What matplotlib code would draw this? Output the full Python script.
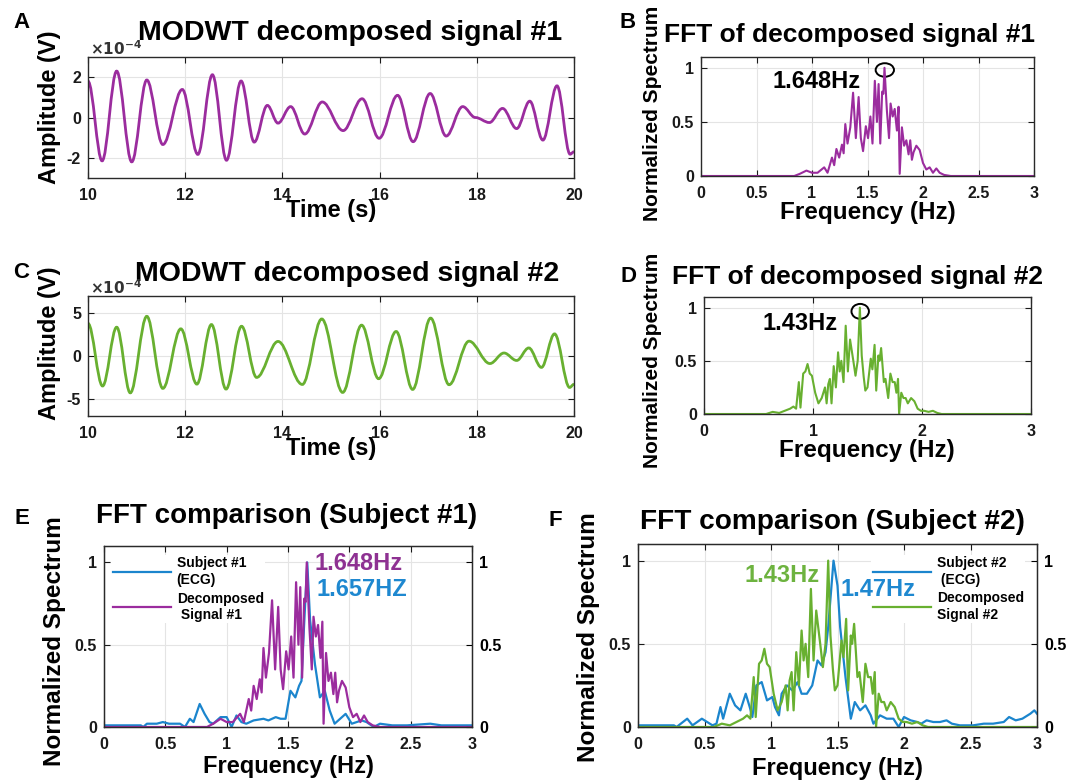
import numpy as np
import matplotlib
matplotlib.use("Agg")
import matplotlib.pyplot as plt
from matplotlib.path import Path
from matplotlib.patches import PathPatch, Ellipse

# --- time-domain signals: extrema (units of 1e-4 V)
sig1_t = [10.0, 10.29, 10.59, 10.9, 11.21, 11.54, 11.94, 12.26, 12.56, 12.85,
          13.15, 13.42, 13.69, 13.91, 14.17, 14.46, 14.82, 15.25, 15.64, 15.99,
          16.37, 16.69, 17.04, 17.37, 17.71, 17.97, 18.26, 18.53, 18.82, 19.09,
          19.36, 19.65, 19.92, 20.0]
sig1_a = [1.8, -2.15, 2.3, -2.2, 1.86, -1.34, 1.39, -1.83, 2.12, -2.12,
          1.81, -1.22, 0.6, -0.28, 0.54, -0.82, 0.77, -0.65, 0.93, -1.03,
          1.1, -1.2, 1.19, -0.92, 0.54, 0.0, -0.25, 0.45, -0.55, 0.81,
          -1.12, 1.57, -1.82, -1.7]

sig2_t = [10.0, 10.3, 10.59, 10.87, 11.21, 11.54, 11.91, 12.24, 12.54, 12.84,
          13.16, 13.47, 13.91, 14.41, 14.81, 15.24, 15.63, 15.98, 16.34, 16.68,
          17.05, 17.43, 17.84, 18.27, 18.56, 18.82, 19.07, 19.33, 19.6, 19.91,
          20.0]
sig2_a = [3.8, -3.5, 3.36, -4.3, 4.63, -3.78, 3.17, -3.28, 3.67, -3.86,
          3.47, -2.5, 1.7, -3.32, 4.32, -4.25, 3.6, -2.65, 2.86, -3.9,
          4.42, -3.35, 1.73, -0.88, 0.35, -0.52, 0.94, -1.33, 2.58, -3.67,
          -3.3]

# --- spectra (normalized), frequency in Hz
fft1_f = [0, 0.84, 0.89, 0.95, 1.0, 1.05, 1.11, 1.14, 1.18, 1.2,
          1.22, 1.245, 1.27, 1.285, 1.3, 1.32, 1.345, 1.37, 1.395, 1.42,
          1.44, 1.46, 1.485, 1.505, 1.526, 1.545, 1.566, 1.585, 1.6, 1.615,
          1.632, 1.643, 1.653, 1.675, 1.694, 1.708, 1.727, 1.745, 1.765, 1.78,
          1.79, 1.81, 1.83, 1.85, 1.87, 1.885, 1.9, 1.915, 1.94, 1.97,
          2.0, 2.03, 2.06, 2.09, 2.12, 2.15, 2.19, 2.25, 3.0]
fft1_v = [0, 0, 0.02, 0.05, 0.03, 0.03, 0.08, 0.03, 0.17, 0.1,
          0.25, 0.17, 0.29, 0.21, 0.48, 0.3, 0.45, 0.77, 0.35, 0.73,
          0.35, 0.23, 0.46, 0.35, 0.55, 0.3, 0.88, 0.5, 0.85, 0.3,
          0.78, 0.76, 1.0, 0.6, 0.35, 0.67, 0.55, 0.62, 0.42, 0.64,
          0.02, 0.45, 0.28, 0.33, 0.2, 0.33, 0.15, 0.22, 0.28, 0.24,
          0.12, 0.06, 0.08, 0.03, 0.07, 0.03, 0.01, 0, 0]

fft2_f = [0, 0.57, 0.63, 0.69, 0.74, 0.79, 0.82, 0.845, 0.87, 0.885,
          0.91, 0.93, 0.95, 0.97, 0.99, 1.02, 1.05, 1.08, 1.11, 1.125,
          1.14, 1.155, 1.17, 1.19, 1.21, 1.23, 1.245, 1.26, 1.28, 1.3,
          1.32, 1.34, 1.355, 1.37, 1.39, 1.41, 1.43, 1.447, 1.465, 1.48,
          1.5, 1.53, 1.545, 1.565, 1.58, 1.6, 1.61, 1.625, 1.65, 1.665,
          1.69, 1.71, 1.73, 1.75, 1.765, 1.78, 1.79, 1.81, 1.83, 1.85,
          1.87, 1.9, 1.93, 1.96, 1.99, 2.02, 2.06, 2.1, 2.14, 2.18,
          3.0]
fft2_v = [0, 0, 0.02, 0.01, 0.03, 0.05, 0.07, 0.05, 0.3, 0.06,
          0.38, 0.4, 0.47, 0.38, 0.36, 0.2, 0.1, 0.15, 0.25, 0.1,
          0.28, 0.33, 0.1, 0.45, 0.25, 0.58, 0.4, 0.5, 0.3, 0.83,
          0.4, 0.7, 0.6, 0.5, 0.36, 0.5, 1.0, 0.55, 0.35, 0.22,
          0.25, 0.52, 0.42, 0.65, 0.22, 0.55, 0.5, 0.62, 0.3, 0.33,
          0.15, 0.38, 0.3, 0.3, 0.2, 0.33, 0.0, 0.2, 0.15, 0.15,
          0.1, 0.15, 0.12, 0.05, 0.03, 0.03, 0.02, 0.03, 0.01, 0,
          0]

ecg1_f = [0, 0.3, 0.32, 0.35, 0.43, 0.48, 0.53, 0.62, 0.66, 0.7,
          0.73, 0.78, 0.82, 0.86, 0.89, 0.95, 1.0, 1.04, 1.08, 1.12,
          1.16, 1.22, 1.3, 1.34, 1.4, 1.44, 1.48, 1.52, 1.56, 1.59,
          1.61, 1.63, 1.657, 1.68, 1.72, 1.76, 1.8, 1.84, 1.88, 1.97,
          2.02, 2.1, 2.14, 2.2, 2.25, 2.35, 2.47, 2.66, 2.75, 3.0]
ecg1_v = [0.01, 0.01, 0.0, 0.02, 0.02, 0.03, 0.02, 0.02, 0.0, 0.05,
          0.03, 0.14, 0.08, 0.03, 0.02, 0.06, 0.06, 0.0, 0.07, 0.03,
          0.02, 0.04, 0.05, 0.04, 0.06, 0.05, 0.05, 0.22, 0.18, 0.25,
          0.28, 0.6, 1.0, 0.65, 0.38, 0.18, 0.22, 0.1, 0.02, 0.08,
          0.02, 0.04, 0.03, 0.0, 0.02, 0.01, 0.01, 0.02, 0.01, 0.01]

ecg2_f = [0, 0.27, 0.29, 0.37, 0.41, 0.48, 0.52, 0.56, 0.59, 0.62,
          0.64, 0.69, 0.73, 0.77, 0.81, 0.84, 0.86, 0.89, 0.93, 0.97,
          1.01, 1.03, 1.06, 1.08, 1.12, 1.16, 1.2, 1.23, 1.27, 1.31,
          1.35, 1.38, 1.41, 1.43, 1.47, 1.5, 1.52, 1.56, 1.6, 1.63,
          1.67, 1.71, 1.75, 1.77, 1.82, 1.87, 1.92, 1.96, 2.0, 2.05,
          2.1, 2.13, 2.17, 2.22, 2.27, 2.32, 2.36, 2.42, 2.52, 2.6,
          2.67, 2.75, 2.79, 2.84, 2.89, 2.95, 2.98, 3.0]
ecg2_v = [0.01, 0.01, 0.0, 0.05, 0.01, 0.05, 0.03, 0.01, 0.02, 0.12,
          0.05, 0.2, 0.13, 0.1, 0.2, 0.12, 0.06, 0.25, 0.27, 0.16,
          0.18, 0.12, 0.07, 0.2, 0.25, 0.22, 0.27, 0.2, 0.2, 0.25,
          0.4, 0.37, 0.45, 0.6, 1.0, 0.85, 0.6, 0.3, 0.05, 0.15,
          0.1, 0.13, 0.07, 0.02, 0.07, 0.05, 0.05, 0.0, 0.06, 0.04,
          0.03, 0.02, 0.04, 0.03, 0.03, 0.04, 0.02, 0.01, 0.01, 0.02,
          0.02, 0.03, 0.06, 0.04, 0.05, 0.08, 0.1, 0.08]

PURPLE = "#9B2C9E"
GREEN = "#68B030"
BLUE = "#1B85CD"

plt.rcParams["font.family"] = ["Liberation Sans", "DejaVu Sans"]
plt.rcParams["font.weight"] = "bold"
plt.rcParams["axes.unicode_minus"] = False

W, H = 1069, 783
fig = plt.figure(figsize=(W / 100, H / 100), dpi=100)


def box(l, r, t, b):
    return [l / W, 1 - b / H, (r - l) / W, (b - t) / H]


def put(x, y, s, **kw):
    fig.text(x / W, 1 - y / H, s, **kw)


def style(ax, right=True):
    ax.grid(True, color="#e4e4e4", lw=0.8)
    ax.set_axisbelow(True)
    for sp in ax.spines.values():
        sp.set_color("#2a2a2a")
        sp.set_linewidth(1.0)
    ax.tick_params(direction="in", top=True, right=right, length=4,
                   width=0.8, labelsize=11.5, colors="#1a1a1a")
    ax.tick_params(axis="x", pad=7)
    ax.tick_params(axis="y", pad=5)


def smooth_line(ax, t, a, color, k=0.36):
    # smooth curve through the read extrema (cubic segments, flat at each point)
    verts = [(t[0], a[0])]
    codes = [Path.MOVETO]
    for i in range(len(t) - 1):
        dt = t[i + 1] - t[i]
        verts += [(t[i] + k * dt, a[i]), (t[i + 1] - k * dt, a[i + 1]), (t[i + 1], a[i + 1])]
        codes += [Path.CURVE4] * 3
    ax.add_patch(PathPatch(Path(verts, codes), fill=False, ec=color, lw=2.0))


# ---- A
axA = fig.add_axes(box(88, 574, 57, 178))
smooth_line(axA, sig1_t, sig1_a, PURPLE)
axA.set_xlim(10, 20)
axA.set_ylim(-3, 3)
axA.set_xticks([10, 12, 14, 16, 18, 20])
axA.set_yticks([-2, 0, 2])
style(axA)

# ---- C
axC = fig.add_axes(box(88, 574, 296, 416))
smooth_line(axC, sig2_t, sig2_a, GREEN)
axC.set_xlim(10, 20)
axC.set_ylim(-7, 7)
axC.set_xticks([10, 12, 14, 16, 18, 20])
axC.set_yticks([-5, 0, 5])
style(axC)

# ---- B
axB = fig.add_axes(box(701, 1034, 57, 176))
axB.plot(fft1_f, fft1_v, color=PURPLE, lw=1.5)
axB.set_xlim(0, 3)
axB.set_ylim(0, 1.1)
axB.set_xticks([0, 0.5, 1, 1.5, 2, 2.5, 3])
axB.set_xticklabels(["0", "0.5", "1", "1.5", "2", "2.5", "3"])
axB.set_yticks([0, 0.5, 1])
axB.set_yticklabels(["0", "0.5", "1"])
style(axB)
axB.add_patch(Ellipse((1.656, 0.98), 0.165, 0.125, fill=False, ec="black", lw=1.4))

# ---- D
axD = fig.add_axes(box(704, 1031, 297, 414))
axD.plot(fft2_f, fft2_v, color=GREEN, lw=1.5)
axD.set_xlim(0, 3)
axD.set_ylim(0, 1.1)
axD.set_xticks([0, 1, 2, 3])
axD.set_yticks([0, 0.5, 1])
axD.set_yticklabels(["0", "0.5", "1"])
style(axD)
axD.add_patch(Ellipse((1.433, 0.965), 0.16, 0.14, fill=False, ec="black", lw=1.4))


# ---- E, F
def compare(ax, ecg_f, ecg_v, dec_f, dec_v, dec_color, labels, anchor):
    ax.plot(ecg_f, ecg_v, color=BLUE, lw=1.6, label=labels[0])
    ax.plot(dec_f, dec_v, color=dec_color, lw=1.6, label=labels[1])
    ax.set_xlim(0, 3)
    ax.set_ylim(0, 1.1)
    ax.set_xticks([0, 0.5, 1, 1.5, 2, 2.5, 3])
    ax.set_xticklabels(["0", "0.5", "1", "1.5", "2", "2.5", "3"])
    ax.set_yticks([0, 0.5, 1])
    ax.set_yticklabels(["0", "0.5", "1"])
    style(ax, right=False)
    tw = ax.twinx()
    tw.set_ylim(0, 1.1)
    tw.set_yticks([0, 0.5, 1])
    tw.set_yticklabels(["0", "0.5", "1"])
    tw.tick_params(direction="in", length=4, width=0.8, labelsize=11.5, pad=5)
    for sp in tw.spines.values():
        sp.set_color("#2a2a2a")
    leg = ax.legend(loc="upper left", bbox_to_anchor=anchor, fontsize=10,
                    handlelength=4.2, handletextpad=0.4, labelspacing=0.35,
                    borderpad=0.1, borderaxespad=0, frameon=True, framealpha=1,
                    facecolor="white", edgecolor="none")
    leg.set_zorder(5)


axE = fig.add_axes(box(104, 472, 546, 727))
compare(axE, ecg1_f, ecg1_v, fft1_f, fft1_v, PURPLE,
        ["Subject #1\n(ECG)", "Decomposed\n Signal #1"], (0.02, 0.95))

axF = fig.add_axes(box(638, 1037, 544, 727))
compare(axF, ecg2_f, ecg2_v, fft2_f, fft2_v, GREEN,
        ["Subject #2\n (ECG)", "Decomposed\nSignal #2"], (0.585, 0.94))

# ---- texts
put(22, 22, "A", fontsize=16, ha="center", va="center")
put(628, 23, "B", fontsize=16, ha="center", va="center")
put(21, 272, "C", fontsize=16, ha="center", va="center")
put(628, 277, "D", fontsize=16, ha="center", va="center")
put(22, 519, "E", fontsize=16, ha="center", va="center")
put(555, 521, "F", fontsize=16, ha="center", va="center")

put(350, 33, "MODWT decomposed signal #1", fontsize=20.5, ha="center", va="center")
put(850, 35, "FFT of decomposed signal #1", fontsize=19, ha="center", va="center")
put(347, 274, "MODWT decomposed signal #2", fontsize=20.5, ha="center", va="center")
put(857, 277, "FFT of decomposed signal #2", fontsize=19, ha="center", va="center")
put(287, 516, "FFT comparison (Subject #1)", fontsize=20, ha="center", va="center")
put(832, 522, "FFT comparison (Subject #2)", fontsize=20.2, ha="center", va="center")

put(90, 49, r"$\times10^{-4}$", fontsize=11, fontweight="normal", color="#333333",
    ha="left", va="center")
put(90, 288, r"$\times10^{-4}$", fontsize=11, fontweight="normal", color="#333333",
    ha="left", va="center")

put(50, 107, "Amplitude (V)", fontsize=17, rotation=90, ha="center", va="center")
put(50, 343, "Amplitude (V)", fontsize=17, rotation=90, ha="center", va="center")
put(653, 113, "Normalized Spectrum", fontsize=15, rotation=90, ha="center", va="center")
put(652, 360, "Normalized Spectrum", fontsize=15, rotation=90, ha="center", va="center")
put(55, 641, "Normalized Spectrum", fontsize=17.5, rotation=90, ha="center", va="center")
put(588, 637, "Normalized Spectrum", fontsize=17.5, rotation=90, ha="center", va="center")

put(331, 211, "Time (s)", fontsize=17, ha="center", va="center")
put(331, 449, "Time (s)", fontsize=17, ha="center", va="center")
put(868, 212, "Frequency (Hz)", fontsize=17.5, ha="center", va="center")
put(867, 450, "Frequency (Hz)", fontsize=17.5, ha="center", va="center")
put(288, 767, "Frequency (Hz)", fontsize=17, ha="center", va="center")
put(837, 768, "Frequency (Hz)", fontsize=17, ha="center", va="center")

put(772, 82, "1.648Hz", fontsize=17, ha="left", va="center")
put(762, 323, "1.43Hz", fontsize=17, ha="left", va="center")
put(315, 563, "1.648Hz", fontsize=17, color="#8E3192", ha="left", va="center")
put(317, 590, "1.657HZ", fontsize=17, color="#1E88D0", ha="left", va="center")
put(745, 575, "1.43Hz", fontsize=17, color="#6DB33F", ha="left", va="center")
put(840, 590, "1.47Hz", fontsize=17, color="#1E88D0", ha="left", va="center")

fig.savefig("out.png", dpi=100)
